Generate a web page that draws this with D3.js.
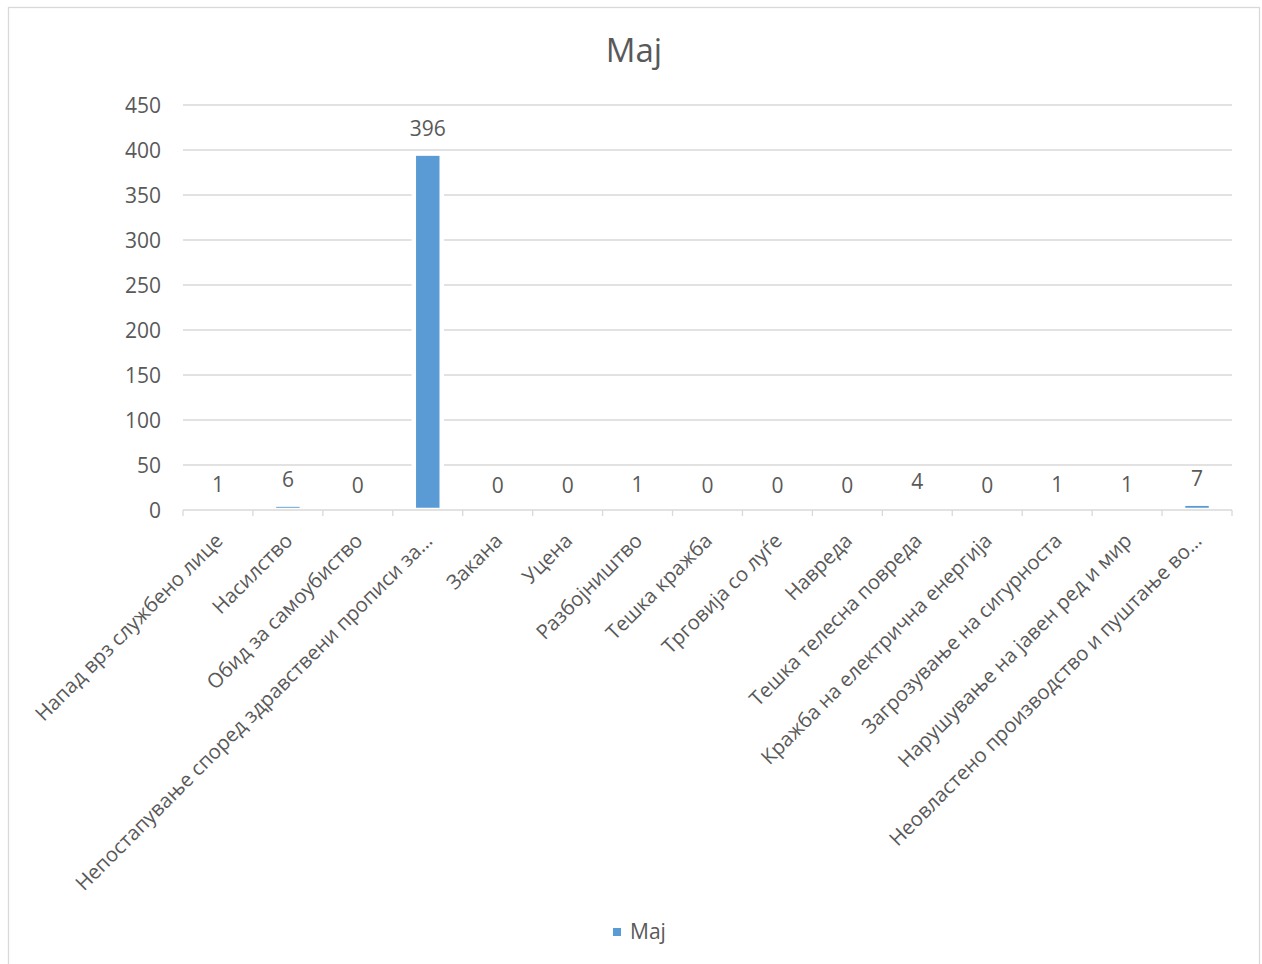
<!DOCTYPE html>
<html>
<head>
<meta charset="utf-8">
<script src="https://cdn.jsdelivr.net/npm/d3@7"></script>
<style>
  html, body { margin: 0; padding: 0; background: #fff; }
  svg { display: block; }
  text { font-family: "Open Sans", sans-serif; fill: #595959; }
</style>
</head>
<body>
<svg id="chart" width="1262" height="964"></svg>
<script>
// Chart content
const title = "Мај";
const seriesName = "Мај";
const categories = [
  "Напад врз службено лице",
  "Насилство",
  "Обид за самоубиство",
  "Непостапување според здравствени прописи за…",
  "Закана",
  "Уцена",
  "Разбојништво",
  "Тешка кражба",
  "Трговија со луѓе",
  "Навреда",
  "Тешка телесна повреда",
  "Кражба на електрична енергија",
  "Загрозување на сигурноста",
  "Нарушување на јавен ред и мир",
  "Неовластено производство и пуштање во…"
];
const values = [1, 6, 0, 396, 0, 0, 1, 0, 0, 0, 4, 0, 1, 1, 7];
const yTicks = [0, 50, 100, 150, 200, 250, 300, 350, 400, 450];

const svg = d3.select("#chart");
const plot = { left: 183, right: 1232, top: 105, bottom: 510 };
const barColor = "#5B9BD5";
const gridColor = "#d9d9d9";

// Outer chart frame
svg.append("rect")
  .attr("x", 8.5).attr("y", 7.5)
  .attr("width", 1251).attr("height", 980)
  .attr("fill", "#fff")
  .attr("stroke", gridColor).attr("stroke-width", 1.3);

// Title
svg.append("text")
  .attr("x", 634).attr("y", 62)
  .attr("text-anchor", "middle")
  .style("font-size", "33px")
  .text(title);

const x = d3.scaleBand()
  .domain(categories)
  .range([plot.left, plot.right])
  .paddingInner(0.6)
  .paddingOuter(0.3);

const y = d3.scaleLinear()
  .domain([0, 450])
  .range([plot.bottom, plot.top]);

// Horizontal gridlines
svg.append("g")
  .selectAll("line")
  .data(yTicks.filter(t => t > 0))
  .join("line")
  .attr("x1", plot.left).attr("x2", plot.right)
  .attr("y1", d => y(d)).attr("y2", d => y(d))
  .attr("stroke", gridColor).attr("stroke-width", 1.3);

// Value axis labels
const yAxis = svg.append("g")
  .attr("transform", `translate(${plot.left - 22},0)`)
  .call(d3.axisLeft(y).tickValues(yTicks).tickSize(0).tickPadding(0));
yAxis.select(".domain").remove();
yAxis.selectAll("text")
  .style("font-size", "21px")
  .style("font-family", "'Open Sans', sans-serif")
  .attr("fill", "#595959")
  .attr("dy", "0.35em");

// Bars (white outline as in the spreadsheet style)
svg.append("g")
  .selectAll("rect")
  .data(categories.map((c, i) => ({ c, v: values[i] })))
  .join("rect")
  .attr("x", d => x(d.c))
  .attr("y", d => y(d.v))
  .attr("width", x.bandwidth())
  .attr("height", d => y(0) - y(d.v))
  .attr("fill", barColor)
  .attr("stroke", "#fff")
  .attr("stroke-width", 4.5);

// Category axis line and tick marks
const step = x.step();
svg.append("line")
  .attr("x1", plot.left).attr("x2", plot.right)
  .attr("y1", y(0)).attr("y2", y(0))
  .attr("stroke", gridColor).attr("stroke-width", 1.3);
svg.append("g")
  .selectAll("line")
  .data(d3.range(categories.length + 1))
  .join("line")
  .attr("x1", i => plot.left + i * step).attr("x2", i => plot.left + i * step)
  .attr("y1", y(0)).attr("y2", y(0) + 6)
  .attr("stroke", gridColor).attr("stroke-width", 1.3);

// Data labels
svg.append("g")
  .selectAll("text")
  .data(categories.map((c, i) => ({ c, v: values[i] })))
  .join("text")
  .attr("x", d => x(d.c) + x.bandwidth() / 2)
  .attr("y", d => y(d.v) - 17.5)
  .attr("text-anchor", "middle")
  .style("font-size", "21px")
  .text(d => d.v);

// Rotated category labels
svg.append("g")
  .selectAll("text")
  .data(categories)
  .join("text")
  .attr("transform", d => `translate(${x(d) + x.bandwidth() / 2 + 6},542) rotate(-45)`)
  .attr("text-anchor", "end")
  .style("font-size", "20.3px")
  .text(d => d);

// Legend
const legend = svg.append("g").attr("transform", "translate(613,928)");
legend.append("rect")
  .attr("width", 8).attr("height", 8)
  .attr("fill", barColor);
legend.append("text")
  .attr("x", 17).attr("y", 4)
  .attr("dy", "0.35em")
  .style("font-size", "21px")
  .text(seriesName);
</script>
</body>
</html>
